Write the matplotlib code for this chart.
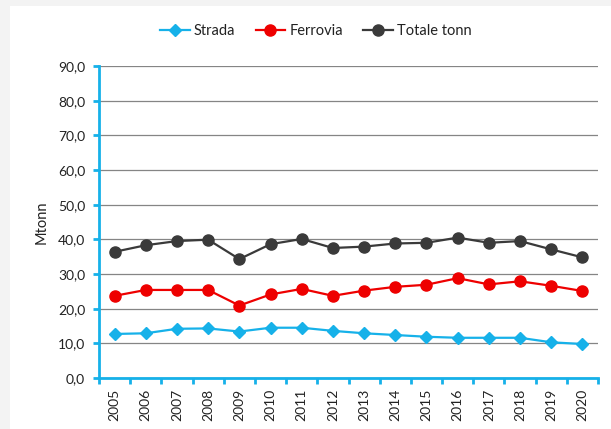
import matplotlib
matplotlib.use("Agg")
import matplotlib.pyplot as plt
from matplotlib.patches import Rectangle
from matplotlib.ticker import FuncFormatter, MultipleLocator, FixedLocator

plt.rcParams['font.family'] = ['Lato', 'DejaVu Sans']

years = ['2005', '2006', '2007', '2008', '2009', '2010', '2011', '2012',
         '2013', '2014', '2015', '2016', '2017', '2018', '2019', '2020']
strada = [12.7, 12.9, 14.2, 14.3, 13.4, 14.5, 14.5, 13.6,
          12.9, 12.4, 11.9, 11.6, 11.6, 11.6, 10.3, 9.8]
ferrovia = [23.7, 25.4, 25.4, 25.4, 20.9, 24.1, 25.7, 23.7,
            25.2, 26.3, 26.9, 28.8, 27.0, 27.9, 26.6, 25.1]
totale = [36.4, 38.3, 39.5, 39.9, 34.3, 38.6, 40.1, 37.5,
          37.9, 38.8, 39.0, 40.5, 39.0, 39.5, 37.1, 34.8]

W, H = 611, 429
fig = plt.figure(figsize=(W / 100, H / 100), dpi=100)
fig.patch.set_facecolor('#f3f3f3')
fig.patches.append(Rectangle((10 / W, 0), 1, 1 - 6 / H, transform=fig.transFigure,
                             facecolor='white', edgecolor='none', zorder=-10))

ax = fig.add_axes([99 / W, 1 - 378 / H, (598 - 99) / W, (378 - 66) / H])
ax.set_zorder(2)
ax.set_facecolor('none')

blue = '#16b1e9'
red = '#ee0000'
dark = '#3a3a3a'

x = list(range(len(years)))
ax.plot(x, strada, color=blue, lw=1.6, marker='D', ms=6.3, label='Strada', zorder=3)
ax.plot(x, ferrovia, color=red, lw=1.6, marker='o', ms=8, label='Ferrovia', zorder=3)
ax.plot(x, totale, color=dark, lw=1.6, marker='o', ms=8, label='Totale tonn', zorder=3)

ax.set_xlim(-0.5, len(years) - 0.5)
ax.set_ylim(0, 90)
ax.yaxis.set_major_locator(MultipleLocator(10))
ax.yaxis.set_major_formatter(FuncFormatter(lambda v, p: f"{v:.1f}".replace('.', ',')))
ax.yaxis.grid(True, color='#858585', lw=0.9)
ax.set_axisbelow(True)

ax.set_xticks(x)
ax.set_xticklabels(years, rotation=90)
ax.xaxis.set_minor_locator(FixedLocator([i - 0.5 for i in range(len(years) + 1)]))
ax.tick_params(axis='x', which='major', length=0, pad=8, labelsize=10, colors='#222222')
ax.tick_params(axis='x', which='minor', length=4, width=2, color=blue, direction='out')
ax.tick_params(axis='y', length=4, width=2, color=blue, labelsize=10, labelcolor='#222222', pad=6)
for lbl in ax.get_xticklabels():
    lbl.set_color('#222222')

for s in ['top', 'right']:
    ax.spines[s].set_visible(False)
for s in ['left', 'bottom']:
    ax.spines[s].set_color(blue)
    ax.spines[s].set_linewidth(2)

ax.set_ylabel('Mtonn', fontsize=10.5, color='#222222', labelpad=7)

leg = fig.legend(loc='center', bbox_to_anchor=(316 / W, 1 - 31 / H), ncol=3,
                 frameon=False, fontsize=10.5, handlelength=2.0, columnspacing=1.4,
                 handletextpad=0.3)
for t in leg.get_texts():
    t.set_color('#222222')

fig.savefig('out.png', dpi=100)
